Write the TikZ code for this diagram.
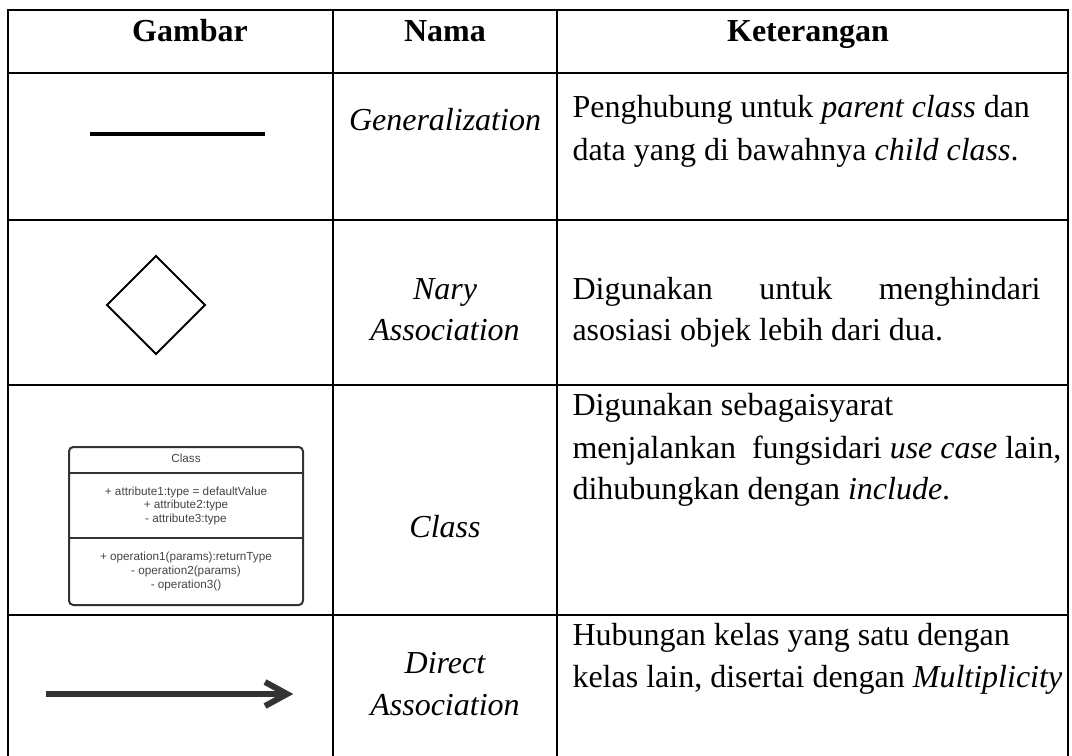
\documentclass[tikz,border=0pt]{standalone}
\usepackage{fontspec}
\setmainfont{Liberation Serif}
\newfontfamily\umlfont{Liberation Sans}
\definecolor{umlgray}{HTML}{333333}
\definecolor{umltext}{HTML}{444444}

\begin{document}
\begin{tikzpicture}[x=0.375pt,y=-0.375pt,
  grid/.style={line width=1.1pt, line cap=rect},
  txt/.style={inner sep=0pt, anchor=base west, font=\fontsize{12}{14}\selectfont},
  ctr/.style={inner sep=0pt, anchor=base, font=\fontsize{12}{14}\selectfont},
  head/.style={ctr, font=\fontsize{12}{14}\selectfont\bfseries},
  uml/.style={inner sep=0pt, anchor=base, text=umltext, font=\umlfont\fontsize{4.4}{5}\selectfont},
  umlbox/.style={draw=umlgray, line width=0.75pt}]
\useasboundingbox (0,0) rectangle (1072,755);

% table rules
\draw[grid] (8,755) -- (8,10) -- (1068,10) -- (1068,755);
\foreach \y in {73,220,385,615} \draw[grid] (8,\y) -- (1068,\y);
\foreach \x in {333,557} \draw[grid] (\x,10) -- (\x,755);

% header
\node[head] (hgambar) at (190,41) {Gambar};
\node[head] (hnama) at (445,41) {Nama};
\node[head] (hket) at (808,41) {Keterangan};

% row 1: generalization
\draw[line width=1.5pt] (90,134) -- (265,134);
\node[ctr] (n1) at (445,130) {\itshape Generalization};
\node[txt] (k1a) at (572,117) {Penghubung untuk \textit{parent class} dan};
\node[txt] (k1b) at (572,160) {data yang di bawahnya \textit{child class}.};

% row 2: nary association
\draw[line width=0.75pt, line join=miter] (156,256) -- (205,305) -- (156,354) -- (107,305) -- cycle;
\node[ctr] (n2a) at (445,299) {\itshape Nary};
\node[ctr] (n2b) at (445,340) {\itshape Association};
\node[txt] (k2a) at (572,299) {\makebox[468\dimexpr0.375pt][s]{Digunakan\hfill untuk\hfill menghindari}};
\node[txt] (k2b) at (572,340) {asosiasi objek lebih dari dua.};

% row 3: class
\draw[umlbox, rounded corners=1.6pt] (69,447) rectangle (303,605);
\draw[umlbox] (69,473) -- (303,473);
\draw[umlbox] (69,538) -- (303,538);
\node[uml] (cname) at (186,462) {Class};
\node[uml] (ca1) at (186,495) {+ attribute1:type = defaultValue};
\node[uml] (ca2) at (186,508.5) {+ attribute2:type};
\node[uml] (ca3) at (186,522) {- attribute3:type};
\node[uml] (co1) at (186,560) {+ operation1(params):returnType};
\node[uml] (co2) at (186,574) {- operation2(params)};
\node[uml] (co3) at (186,588) {- operation3()};
\node[ctr] (n3) at (445,537) {\itshape Class};
\node[txt] (k3a) at (572,415) {Digunakan sebagaisyarat};
\node[txt] (k3b) at (572,458) {menjalankan\ \ fungsidari \textit{use case} lain,};
\node[txt] (k3c) at (572,499) {dihubungkan dengan \textit{include}.};

% row 4: direct association
\draw[umlgray, line width=2.25pt] (46,694) -- (284,694);
\draw[umlgray, line width=2.25pt, line join=miter] (265,682) -- (287,694) -- (265,706);
\node[ctr] (n4a) at (445,673) {\itshape Direct};
\node[ctr] (n4b) at (445,715) {\itshape Association};
\node[txt] (k4a) at (572,645) {Hubungan kelas yang satu dengan};
\node[txt] (k4b) at (572,687) {kelas lain, disertai dengan \textit{Multiplicity}};
\end{tikzpicture}
\end{document}
